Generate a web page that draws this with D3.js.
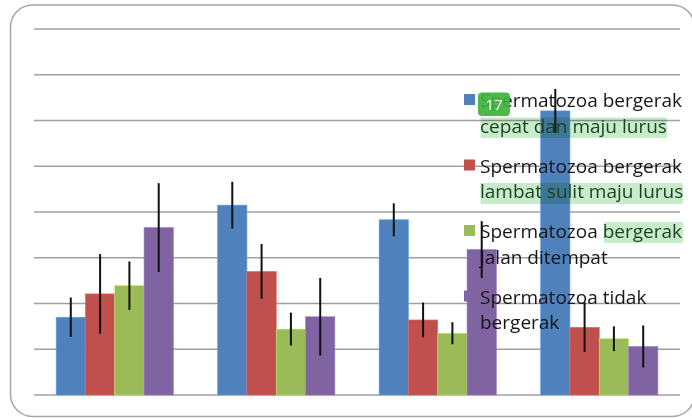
<!DOCTYPE html>
<html>
<head>
<meta charset="utf-8">
<script src="https://cdn.jsdelivr.net/npm/d3@7"></script>
<style>
  html, body { margin: 0; padding: 0; background: #fff; }
  svg { display: block; }
</style>
</head>
<body>
<svg id="chart" width="692" height="418"></svg>
<script>
// groups along x (no labels shown in the picture)
const groups = ["Kelompok 1", "Kelompok 2", "Kelompok 3", "Kelompok 4"];
const seriesNames = [
  "Spermatozoa bergerak cepat dan maju lurus",
  "Spermatozoa bergerak lambat sulit maju lurus",
  "Spermatozoa bergerak jalan ditempat",
  "Spermatozoa tidak bergerak"
];
// percent values per group, one array per series
const cepat   = [17.0, 41.5, 38.3, 62.1];
const lambat  = [22.1, 27.0, 16.4, 14.8];
const ditempat = [23.9, 14.4, 13.5, 12.3];
const tidak   = [36.6, 17.1, 31.8, 10.6];
// error bar half-lengths
const errCepat   = [4.3, 5.1, 3.6, 4.8];
const errLambat  = [8.7, 6.0, 3.8, 5.4];
const errDitempat = [5.3, 3.6, 2.4, 2.7];
const errTidak   = [9.7, 8.5, 6.2, 4.6];
const yTicks = [0, 10, 20, 30, 40, 50, 60, 70, 80];
// legend lines as wrapped in the picture
const legendLines = [
  ["Spermatozoa bergerak", "cepat dan maju lurus"],
  ["Spermatozoa bergerak", "lambat sulit maju lurus"],
  ["Spermatozoa bergerak", "jalan ditempat"],
  ["Spermatozoa tidak", "bergerak"]
];

const colors = ["#4f81bd", "#c0504d", "#9bbb59", "#8064a2"];
const values = [cepat, lambat, ditempat, tidak];
const errors = [errCepat, errLambat, errDitempat, errTidak];

const svg = d3.select("#chart");

// outer rounded frame
svg.append("rect")
  .attr("x", 10.5).attr("y", 5)
  .attr("width", 684).attr("height", 411.5)
  .attr("rx", 22).attr("ry", 22)
  .attr("fill", "#fff")
  .attr("stroke", "#a6a6a6")
  .attr("stroke-width", 1.5);

const x0 = d3.scaleBand().domain(groups).range([34, 680]).padding(0);
const x1 = d3.scaleBand().domain(d3.range(4)).range([0, x0.bandwidth()])
  .paddingInner(0).paddingOuter(0.755);
const y = d3.scaleLinear().domain([0, 80]).range([395, 29]);

// gridlines
svg.append("g")
  .selectAll("line")
  .data(yTicks)
  .join("line")
  .attr("x1", 34).attr("x2", 680)
  .attr("y1", d => y(d)).attr("y2", d => y(d))
  .attr("stroke", "#a0a0a0")
  .attr("stroke-width", 1.4);

const rows = [];
groups.forEach((g, gi) => {
  values.forEach((arr, si) => {
    rows.push({ g, si, v: arr[gi], e: errors[si][gi] });
  });
});

svg.append("g")
  .selectAll("rect")
  .data(rows)
  .join("rect")
  .attr("x", d => x0(d.g) + x1(d.si))
  .attr("y", d => y(d.v))
  .attr("width", x1.bandwidth())
  .attr("height", d => y(0) - y(d.v))
  .attr("fill", d => colors[d.si])
  .attr("stroke", d => d3.color(colors[d.si]).brighter(0.6))
  .attr("stroke-width", 0.6);

svg.append("g")
  .selectAll("line")
  .data(rows)
  .join("line")
  .attr("x1", d => x0(d.g) + x1(d.si) + x1.bandwidth() / 2)
  .attr("x2", d => x0(d.g) + x1(d.si) + x1.bandwidth() / 2)
  .attr("y1", d => y(d.v + d.e))
  .attr("y2", d => y(d.v - d.e))
  .attr("stroke", "#111")
  .attr("stroke-width", 2);

// legend
const LX = 464, TX = 480, BASE = 107, ENTRY = 65.5, LINE = 25.5;
const leg = svg.append("g");

// highlighter marks behind some legend text
const hl = [
  { x: 480.5, y: BASE + LINE - 15, w: 186.5, h: 20.5 },
  { x: 480.5, y: BASE + ENTRY + LINE - 15, w: 202.5, h: 21 },
  { x: 604, y: BASE + 2 * ENTRY - 16, w: 79, h: 21 }
];
leg.selectAll("rect.hl")
  .data(hl)
  .join("rect")
  .attr("class", "hl")
  .attr("x", d => d.x).attr("y", d => d.y)
  .attr("width", d => d.w).attr("height", d => d.h)
  .attr("fill", "#c6eccb")
  .style("mix-blend-mode", "multiply");

leg.selectAll("rect.sw")
  .data(seriesNames)
  .join("rect")
  .attr("class", "sw")
  .attr("x", LX).attr("y", (d, i) => BASE + i * ENTRY - 13)
  .attr("width", 11).attr("height", 11)
  .attr("fill", (d, i) => colors[i]);

const green = "#1d3f1d";
legendLines.forEach((lines, i) => {
  lines.forEach((t, j) => {
    const txt = leg.append("text")
      .attr("x", TX)
      .attr("y", BASE + i * ENTRY + j * LINE)
      .attr("font-family", "'Open Sans', sans-serif")
      .attr("font-size", 19)
      .attr("fill", (i < 2 && j === 1) ? green : "#161616");
    if (i === 2 && j === 0) {
      txt.append("tspan").text("Spermatozoa ");
      txt.append("tspan").attr("fill", green).text("bergerak");
    } else {
      txt.text(t);
    }
  });
});

// green comment badge
const badge = svg.append("g").attr("transform", "translate(478,92.5)");
badge.append("rect")
  .attr("width", 32).attr("height", 23.5)
  .attr("rx", 4)
  .attr("fill", "#3cb43c")
  .attr("opacity", 0.92);
badge.append("text")
  .attr("x", 16).attr("y", 17.5)
  .attr("text-anchor", "middle")
  .attr("font-family", "'Open Sans', sans-serif")
  .attr("font-size", 15)
  .attr("fill", "#fff")
  .text("17");
</script>
</body>
</html>
